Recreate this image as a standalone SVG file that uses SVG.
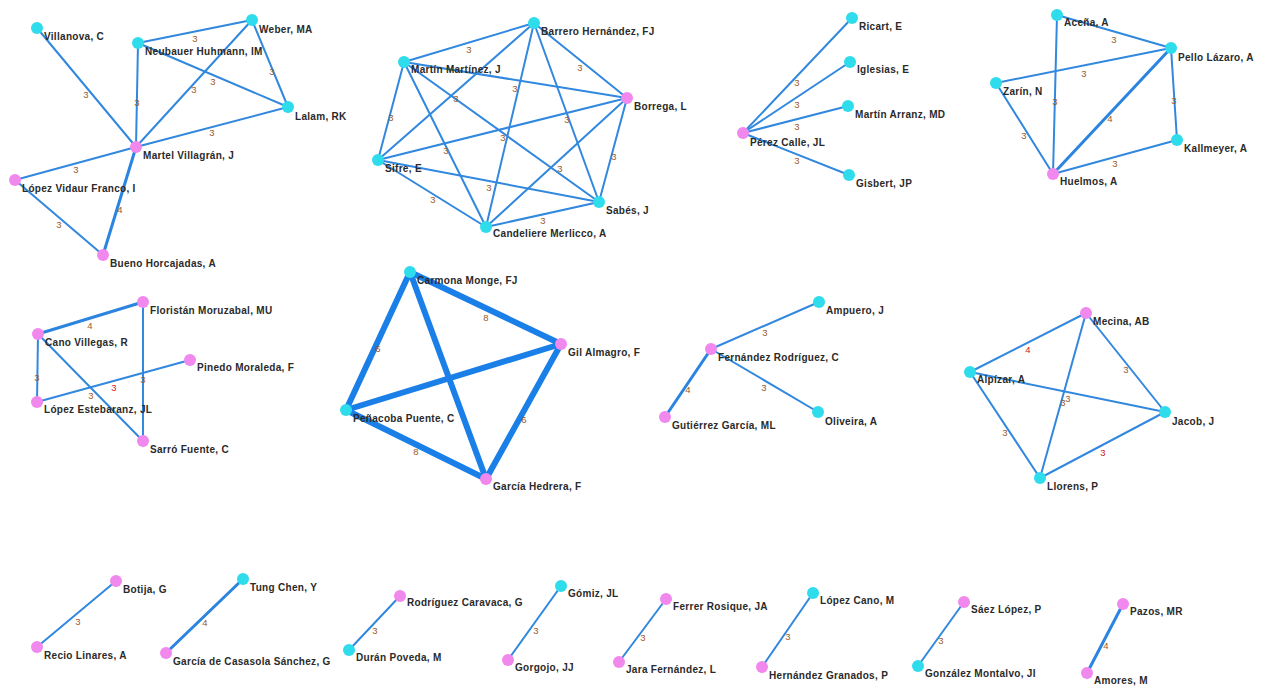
<svg xmlns="http://www.w3.org/2000/svg" width="1265" height="689" viewBox="0 0 1265 689">
<style>
.e{stroke:#3188de;stroke-width:2;fill:none;stroke-linecap:round}
.e4{stroke:#2a84e0;stroke-width:3}
.e8{stroke:#1b7fe8;stroke-width:6}
.w{font-family:"Liberation Sans",Arial,sans-serif;font-size:9.5px;fill:#9a5a28;text-anchor:middle}
.wr{fill:#cc2020}
.c{fill:#2fdcec}
.p{fill:#f088ee}
.t{font-family:"Liberation Sans",Arial,sans-serif;font-size:10px;font-weight:bold;letter-spacing:0.3px;fill:#2a2a2a}
</style>
<rect width="1265" height="689" fill="#ffffff"/>
<g id="connectors">
<line class="e" x1="37" y1="28" x2="136" y2="147"/>
<line class="e" x1="138" y1="43" x2="252" y2="20"/>
<line class="e" x1="138" y1="43" x2="136" y2="147"/>
<line class="e" x1="252" y1="20" x2="136" y2="147"/>
<line class="e" x1="138" y1="43" x2="288" y2="107"/>
<line class="e" x1="252" y1="20" x2="288" y2="107"/>
<line class="e" x1="136" y1="147" x2="288" y2="107"/>
<line class="e" x1="136" y1="147" x2="15" y2="180"/>
<line class="e" x1="15" y1="180" x2="103" y2="255"/>
<line class="e e4" x1="136" y1="147" x2="103" y2="255"/>
<line class="e" x1="534" y1="23" x2="404" y2="62"/>
<line class="e" x1="534" y1="23" x2="627" y2="98"/>
<line class="e" x1="534" y1="23" x2="378" y2="160"/>
<line class="e" x1="534" y1="23" x2="599" y2="202"/>
<line class="e" x1="534" y1="23" x2="486" y2="227"/>
<line class="e" x1="404" y1="62" x2="627" y2="98"/>
<line class="e" x1="404" y1="62" x2="378" y2="160"/>
<line class="e" x1="404" y1="62" x2="599" y2="202"/>
<line class="e" x1="404" y1="62" x2="486" y2="227"/>
<line class="e" x1="627" y1="98" x2="378" y2="160"/>
<line class="e" x1="627" y1="98" x2="599" y2="202"/>
<line class="e" x1="627" y1="98" x2="486" y2="227"/>
<line class="e" x1="378" y1="160" x2="599" y2="202"/>
<line class="e" x1="378" y1="160" x2="486" y2="227"/>
<line class="e" x1="486" y1="227" x2="599" y2="202"/>
<line class="e" x1="743" y1="133" x2="852" y2="18"/>
<line class="e" x1="743" y1="133" x2="850" y2="62"/>
<line class="e" x1="743" y1="133" x2="848" y2="106"/>
<line class="e" x1="743" y1="133" x2="849" y2="175"/>
<line class="e" x1="1057" y1="15" x2="1171" y2="48"/>
<line class="e" x1="1057" y1="15" x2="1053" y2="174"/>
<line class="e" x1="996" y1="83" x2="1171" y2="48"/>
<line class="e" x1="996" y1="83" x2="1053" y2="174"/>
<line class="e e4" x1="1171" y1="48" x2="1053" y2="174"/>
<line class="e" x1="1171" y1="48" x2="1177" y2="140"/>
<line class="e" x1="1177" y1="140" x2="1053" y2="174"/>
<line class="e e4" x1="38" y1="334" x2="143" y2="302"/>
<line class="e" x1="38" y1="334" x2="37" y2="402"/>
<line class="e" x1="38" y1="334" x2="143" y2="441"/>
<line class="e" x1="37" y1="402" x2="190" y2="360"/>
<line class="e" x1="143" y1="302" x2="143" y2="441"/>
<line class="e e8" x1="410" y1="272" x2="561" y2="344"/>
<line class="e e8" x1="410" y1="272" x2="346" y2="410"/>
<line class="e e8" x1="410" y1="272" x2="486" y2="479"/>
<line class="e e8" x1="346" y1="410" x2="561" y2="344"/>
<line class="e e8" x1="346" y1="410" x2="486" y2="479"/>
<line class="e e8" x1="561" y1="344" x2="486" y2="479"/>
<line class="e" x1="711" y1="349" x2="819" y2="302"/>
<line class="e e4" x1="711" y1="349" x2="665" y2="417"/>
<line class="e" x1="711" y1="349" x2="818" y2="412"/>
<line class="e" x1="1086" y1="313" x2="970" y2="372"/>
<line class="e" x1="1086" y1="313" x2="1165" y2="412"/>
<line class="e" x1="1086" y1="313" x2="1040" y2="478"/>
<line class="e" x1="970" y1="372" x2="1165" y2="412"/>
<line class="e" x1="970" y1="372" x2="1040" y2="478"/>
<line class="e" x1="1040" y1="478" x2="1165" y2="412"/>
<line class="e" x1="116" y1="581" x2="37" y2="647"/>
<line class="e e4" x1="243" y1="579" x2="166" y2="653"/>
<line class="e" x1="400" y1="596" x2="349" y2="650"/>
<line class="e" x1="561" y1="586" x2="508" y2="660"/>
<line class="e" x1="666" y1="599" x2="619" y2="662"/>
<line class="e" x1="813" y1="593" x2="762" y2="667"/>
<line class="e" x1="964" y1="602" x2="918" y2="666"/>
<line class="e e4" x1="1123" y1="604" x2="1087" y2="673"/>
</g>
<g id="edge-labels">
<text class="w" x="86" y="98">3</text>
<text class="w" x="195" y="42">3</text>
<text class="w" x="137" y="106">3</text>
<text class="w" x="194" y="93">3</text>
<text class="w" x="213" y="85">3</text>
<text class="w" x="272" y="75">3</text>
<text class="w" x="212" y="136">3</text>
<text class="w" x="76" y="173">3</text>
<text class="w" x="59" y="228">3</text>
<text class="w" x="120" y="213">4</text>
<text class="w" x="469" y="53">3</text>
<text class="w" x="580" y="71">3</text>
<text class="w" x="456" y="102">3</text>
<text class="w" x="567" y="123">3</text>
<text class="w" x="515" y="92">3</text>
<text class="w" x="391" y="121">3</text>
<text class="w" x="503" y="141">3</text>
<text class="w" x="446" y="154">3</text>
<text class="w" x="614" y="160">3</text>
<text class="w" x="560" y="172">3</text>
<text class="w" x="489" y="191">3</text>
<text class="w" x="433" y="203">3</text>
<text class="w" x="543" y="224">3</text>
<text class="w" x="797" y="86">3</text>
<text class="w" x="797" y="108">3</text>
<text class="w" x="797" y="130">3</text>
<text class="w" x="797" y="164">3</text>
<text class="w" x="1114" y="43">3</text>
<text class="w" x="1055" y="105">3</text>
<text class="w" x="1084" y="77">3</text>
<text class="w" x="1024" y="139">3</text>
<text class="w" x="1110" y="122">4</text>
<text class="w" x="1174" y="104">3</text>
<text class="w" x="1115" y="167">3</text>
<text class="w" x="90" y="329">4</text>
<text class="w" x="37" y="381">3</text>
<text class="w" x="91" y="399">3</text>
<text class="w wr" x="114" y="391">3</text>
<text class="w" x="143" y="383">3</text>
<text class="w" x="486" y="321">8</text>
<text class="w" x="378" y="352">6</text>
<text class="w" x="524" y="423">6</text>
<text class="w" x="416" y="455">8</text>
<text class="w" x="765" y="336">3</text>
<text class="w" x="688" y="393">4</text>
<text class="w" x="764" y="391">3</text>
<text class="w wr" x="1028" y="353">4</text>
<text class="w" x="1126" y="373">3</text>
<text class="w" x="1063" y="406">3</text>
<text class="w" x="1068" y="402">3</text>
<text class="w" x="1005" y="436">3</text>
<text class="w wr" x="1103" y="456">3</text>
<text class="w" x="78" y="625">3</text>
<text class="w" x="205" y="626">4</text>
<text class="w" x="375" y="634">3</text>
<text class="w" x="536" y="634">3</text>
<text class="w" x="643" y="641">3</text>
<text class="w" x="788" y="640">3</text>
<text class="w" x="941" y="644">3</text>
<text class="w" x="1106" y="649">4</text>
</g>
<g id="n-villanova"><circle class="c" cx="37" cy="28" r="6"/><text class="t" x="44" y="40">Villanova, C</text></g>
<g id="n-weber"><circle class="c" cx="252" cy="20" r="6"/><text class="t" x="259" y="33">Weber, MA</text></g>
<g id="n-neubauer"><circle class="c" cx="138" cy="43" r="6"/><text class="t" x="145" y="55">Neubauer Huhmann, IM</text></g>
<g id="n-lalam"><circle class="c" cx="288" cy="107" r="6"/><text class="t" x="295" y="120">Lalam, RK</text></g>
<g id="n-martel"><circle class="p" cx="136" cy="147" r="6"/><text class="t" x="143" y="159">Martel Villagrán, J</text></g>
<g id="n-lopezvidaur"><circle class="p" cx="15" cy="180" r="6"/><text class="t" x="22" y="192">López Vidaur Franco, I</text></g>
<g id="n-bueno"><circle class="p" cx="103" cy="255" r="6"/><text class="t" x="110" y="267">Bueno Horcajadas, A</text></g>
<g id="n-barrero"><circle class="c" cx="534" cy="23" r="6"/><text class="t" x="541" y="35">Barrero Hernández, FJ</text></g>
<g id="n-martin"><circle class="c" cx="404" cy="62" r="6"/><text class="t" x="411" y="73">Martín Martínez, J</text></g>
<g id="n-borrega"><circle class="p" cx="627" cy="98" r="6"/><text class="t" x="634" y="110">Borrega, L</text></g>
<g id="n-sifre"><circle class="c" cx="378" cy="160" r="6"/><text class="t" x="385" y="172">Sifre, E</text></g>
<g id="n-sabes"><circle class="c" cx="599" cy="202" r="6"/><text class="t" x="606" y="214">Sabés, J</text></g>
<g id="n-candeliere"><circle class="c" cx="486" cy="227" r="6"/><text class="t" x="493" y="237">Candeliere Merlicco, A</text></g>
<g id="n-ricart"><circle class="c" cx="852" cy="18" r="6"/><text class="t" x="859" y="30">Ricart, E</text></g>
<g id="n-iglesias"><circle class="c" cx="850" cy="62" r="6"/><text class="t" x="857" y="73">Iglesias, E</text></g>
<g id="n-martinarranz"><circle class="c" cx="848" cy="106" r="6"/><text class="t" x="855" y="118">Martín Arranz, MD</text></g>
<g id="n-perezcalle"><circle class="p" cx="743" cy="133" r="6"/><text class="t" x="750" y="146">Pérez Calle, JL</text></g>
<g id="n-gisbert"><circle class="c" cx="849" cy="175" r="6"/><text class="t" x="856" y="187">Gisbert, JP</text></g>
<g id="n-acena"><circle class="c" cx="1057" cy="15" r="6"/><text class="t" x="1064" y="26">Aceña, A</text></g>
<g id="n-pello"><circle class="c" cx="1171" cy="48" r="6"/><text class="t" x="1178" y="61">Pello Lázaro, A</text></g>
<g id="n-zarin"><circle class="c" cx="996" cy="83" r="6"/><text class="t" x="1003" y="95">Zarín, N</text></g>
<g id="n-kallmeyer"><circle class="c" cx="1177" cy="140" r="6"/><text class="t" x="1184" y="152">Kallmeyer, A</text></g>
<g id="n-huelmos"><circle class="p" cx="1053" cy="174" r="6"/><text class="t" x="1060" y="185">Huelmos, A</text></g>
<g id="n-floristan"><circle class="p" cx="143" cy="302" r="6"/><text class="t" x="150" y="314">Floristán Moruzabal, MU</text></g>
<g id="n-cano"><circle class="p" cx="38" cy="334" r="6"/><text class="t" x="45" y="346">Cano Villegas, R</text></g>
<g id="n-pinedo"><circle class="p" cx="190" cy="360" r="6"/><text class="t" x="197" y="371">Pinedo Moraleda, F</text></g>
<g id="n-lopezest"><circle class="p" cx="37" cy="402" r="6"/><text class="t" x="44" y="413">López Estebaranz, JL</text></g>
<g id="n-sarro"><circle class="p" cx="143" cy="441" r="6"/><text class="t" x="150" y="453">Sarró Fuente, C</text></g>
<g id="n-carmona"><circle class="c" cx="410" cy="272" r="6"/><text class="t" x="417" y="284">Carmona Monge, FJ</text></g>
<g id="n-gil"><circle class="p" cx="561" cy="344" r="6"/><text class="t" x="568" y="356">Gil Almagro, F</text></g>
<g id="n-penacoba"><circle class="c" cx="346" cy="410" r="6"/><text class="t" x="353" y="422">Peñacoba Puente, C</text></g>
<g id="n-garciahedrera"><circle class="p" cx="486" cy="479" r="6"/><text class="t" x="493" y="490">García Hedrera, F</text></g>
<g id="n-ampuero"><circle class="c" cx="819" cy="302" r="6"/><text class="t" x="826" y="314">Ampuero, J</text></g>
<g id="n-fernandez"><circle class="p" cx="711" cy="349" r="6"/><text class="t" x="718" y="361">Fernández Rodríguez, C</text></g>
<g id="n-gutierrez"><circle class="p" cx="665" cy="417" r="6"/><text class="t" x="672" y="429">Gutiérrez García, ML</text></g>
<g id="n-oliveira"><circle class="c" cx="818" cy="412" r="6"/><text class="t" x="825" y="425">Oliveira, A</text></g>
<g id="n-mecina"><circle class="p" cx="1086" cy="313" r="6"/><text class="t" x="1093" y="325">Mecina, AB</text></g>
<g id="n-alpizar"><circle class="c" cx="970" cy="372" r="6"/><text class="t" x="977" y="383">Alpízar, A</text></g>
<g id="n-jacob"><circle class="c" cx="1165" cy="412" r="6"/><text class="t" x="1172" y="425">Jacob, J</text></g>
<g id="n-llorens"><circle class="c" cx="1040" cy="478" r="6"/><text class="t" x="1047" y="490">Llorens, P</text></g>
<g id="n-botija"><circle class="p" cx="116" cy="581" r="6"/><text class="t" x="123" y="593">Botija, G</text></g>
<g id="n-recio"><circle class="p" cx="37" cy="647" r="6"/><text class="t" x="44" y="659">Recio Linares, A</text></g>
<g id="n-tung"><circle class="c" cx="243" cy="579" r="6"/><text class="t" x="250" y="591">Tung Chen, Y</text></g>
<g id="n-garciacasasola"><circle class="p" cx="166" cy="653" r="6"/><text class="t" x="173" y="665">García de Casasola Sánchez, G</text></g>
<g id="n-rodriguezcaravaca"><circle class="p" cx="400" cy="596" r="6"/><text class="t" x="407" y="606">Rodríguez Caravaca, G</text></g>
<g id="n-duran"><circle class="c" cx="349" cy="650" r="6"/><text class="t" x="356" y="661">Durán Poveda, M</text></g>
<g id="n-gomiz"><circle class="c" cx="561" cy="586" r="6"/><text class="t" x="568" y="597">Gómiz, JL</text></g>
<g id="n-gorgojo"><circle class="p" cx="508" cy="660" r="6"/><text class="t" x="515" y="671">Gorgojo, JJ</text></g>
<g id="n-ferrer"><circle class="p" cx="666" cy="599" r="6"/><text class="t" x="673" y="610">Ferrer Rosique, JA</text></g>
<g id="n-jara"><circle class="p" cx="619" cy="662" r="6"/><text class="t" x="626" y="673">Jara Fernández, L</text></g>
<g id="n-lopezcano"><circle class="c" cx="813" cy="593" r="6"/><text class="t" x="820" y="604">López Cano, M</text></g>
<g id="n-hernandez"><circle class="p" cx="762" cy="667" r="6"/><text class="t" x="769" y="679">Hernández Granados, P</text></g>
<g id="n-saez"><circle class="p" cx="964" cy="602" r="6"/><text class="t" x="971" y="613">Sáez López, P</text></g>
<g id="n-gonzalez"><circle class="c" cx="918" cy="666" r="6"/><text class="t" x="925" y="677">González Montalvo, JI</text></g>
<g id="n-pazos"><circle class="p" cx="1123" cy="604" r="6"/><text class="t" x="1130" y="615">Pazos, MR</text></g>
<g id="n-amores"><circle class="p" cx="1087" cy="673" r="6"/><text class="t" x="1094" y="684">Amores, M</text></g>
</svg>
